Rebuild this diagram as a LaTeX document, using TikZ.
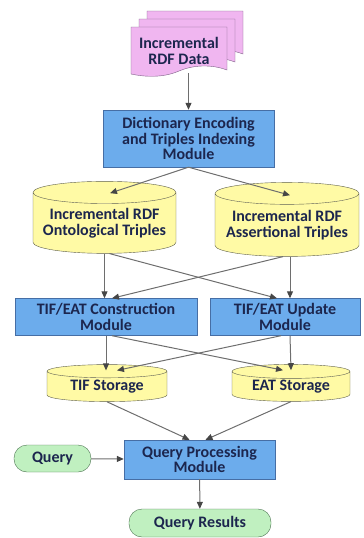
\documentclass[tikz,border=0pt]{standalone}
\usepackage{fontspec}
\setmainfont{Carlito}
\usetikzlibrary{shapes.geometric, arrows.meta, positioning}
\definecolor{modblue}{RGB}{108,172,236}
\definecolor{modline}{RGB}{70,110,165}
\definecolor{storeyellow}{RGB}{255,250,165}
\definecolor{storeline}{RGB}{95,95,75}
\definecolor{docpink}{RGB}{240,182,240}
\definecolor{docline}{RGB}{125,95,135}
\definecolor{termgreen}{RGB}{192,240,192}
\definecolor{termline}{RGB}{75,115,80}
\definecolor{textnavy}{RGB}{28,38,78}
\definecolor{flowgray}{RGB}{110,110,110}
\definecolor{tipgray}{RGB}{70,70,70}

\tikzset{
    module/.style={draw=modline, fill=modblue, align=center, inner sep=0pt},
    store/.style={cylinder, shape border rotate=90, aspect=0.18, draw=storeline,
        cylinder uses custom fill, cylinder body fill=storeyellow,
        cylinder end fill=storeyellow, align=center, inner sep=0pt},
    terminal/.style={draw=termline, fill=termgreen, rounded corners=13pt, align=center},
    flow/.style={flowgray, line width=1pt,
        -{Triangle[length=7pt, width=6pt, color=tipgray]}},
    rdfpage/.pic={
        \draw[docline, fill=docpink] (0,0) -- (96,0) -- (96,-43)
            .. controls (80,-37) and (62,-38) .. (48,-44)
            .. controls (32,-51) and (14,-50) .. (0,-47) -- cycle;
    }
}

\begin{document}
\begin{tikzpicture}[x=1pt, y=1pt,
    font=\bfseries\fontsize{16}{15.5}\selectfont, text=textnavy]
    \useasboundingbox (0,0) rectangle (364,-538);

    % Incremental data
    \foreach \d in {16,8,0}
        \pic at ({131+\d},{-27+\d}) {rdfpage};
    \node[align=center, minimum width=96, minimum height=44] (data) at (179,-51)
        {Incremental\\RDF Data};

    % Encoding
    \node[module, minimum width=171, minimum height=57] (dict) at (188.5,-138.5)
        {Dictionary Encoding\\and Triples Indexing\\Module};

    % Triples
    \node[store, minimum width=143, minimum height=72] (ontoStore) at (104.5,-223)
        {Incremental RDF\\Ontological Triples};
    \node[store, minimum width=144, minimum height=74] (assertStore) at (287,-225)
        {Incremental RDF\\Assertional Triples};

    % Index modules
    \node[module, minimum width=182, minimum height=37] (consBox) at (106,-317)
        {TIF/EAT Construction\\Module};
    \node[module, minimum width=150, minimum height=37] (updBox) at (285,-317)
        {TIF/EAT Update\\Module};

    % Storage
    \node[store, minimum width=120, minimum height=37] (tifStore) at (107,-386.5)
        {TIF Storage};
    \node[store, minimum width=118, minimum height=37] (eatStore) at (291,-386.5)
        {EAT Storage};

    % Query
    \node[module, minimum width=151, minimum height=39] (qpBox) at (199.5,-459.5)
        {Query Processing\\Module};
    \node[terminal, minimum width=77, minimum height=27] (query) at (52.5,-458.5)
        {Query};
    \node[terminal, minimum width=142, minimum height=28] (results) at (200,-523)
        {Query Results};

    % Arrows
    \draw[flow] (data.south -| dict.north) -- (dict.north);
    \draw[flow] (dict.south) -- ([xshift=5.5, yshift=-12]ontoStore.top);
    \draw[flow] (dict.south) -- ([xshift=3, yshift=-13]assertStore.top);

    \draw[flow] (ontoStore.bottom) -- (ontoStore.bottom |- consBox.north);
    \draw[flow] ([xshift=5]ontoStore.bottom) -- ([xshift=-8]updBox.north);
    \draw[flow] ([xshift=3]assertStore.bottom) -- ([xshift=5]updBox.north);
    \draw[flow] ([xshift=-4]assertStore.bottom) -- ([xshift=6]consBox.north);

    \draw[flow] (consBox.south) -- ([xshift=-1, yshift=-6]tifStore.top);
    \draw[flow] ([xshift=6]consBox.south) -- ([xshift=-8, yshift=-6]eatStore.top);
    \draw[flow] ([xshift=5]updBox.south) -- ([yshift=-6]eatStore.top);
    \draw[flow] ([xshift=-4]updBox.south) -- ([xshift=10, yshift=-6]tifStore.top);

    \draw[flow] (tifStore.bottom) -- ([xshift=-10]qpBox.north);
    \draw[flow] (eatStore.bottom) -- ([xshift=6]qpBox.north);
    \draw[flow] (query) -- (qpBox);
    \draw[flow] (qpBox) -- (results);
\end{tikzpicture}
\end{document}
